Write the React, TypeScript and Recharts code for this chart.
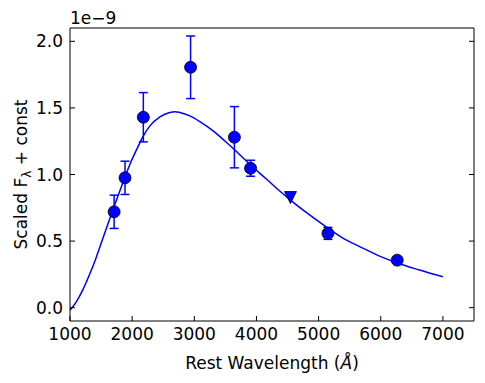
import React from 'react';
import {
  ComposedChart, Line, Scatter, ErrorBar, XAxis, YAxis,
} from 'recharts';

// model curve (flux in units of 1e-9)
const fitWave = [
  1000, 1096, 1204, 1311, 1418, 1514, 1610, 1706, 1804, 1884, 1980, 2077, 2178,
  2286, 2447, 2607, 2688, 2768, 2929, 3089, 3303, 3491, 3652, 3904, 4160, 4374,
  4547, 4860, 5150, 5418, 5659, 5981, 6265, 6624, 7000,
];
const fitFlux = [
  -0.019, 0.04, 0.132, 0.245, 0.372, 0.5, 0.628, 0.756, 0.88, 0.981, 1.094, 1.192, 1.289,
  1.365, 1.432, 1.466, 1.472, 1.466, 1.44, 1.397, 1.327, 1.252, 1.184, 1.071, 0.966, 0.876,
  0.808, 0.695, 0.598, 0.515, 0.459, 0.387, 0.336, 0.283, 0.232,
];

// photometry
const obsWave = [1710, 1885, 2180, 2940, 3645, 3905, 5150, 6265];
const obsFlux = [0.72, 0.975, 1.43, 1.805, 1.28, 1.047, 0.558, 0.357];
const obsErr = [0.125, 0.125, 0.185, 0.235, 0.23, 0.06, 0.045, 0.015];

// upper limit
const limWave = [4547];
const limFlux = [0.827];

const xTicks = [1000, 2000, 3000, 4000, 5000, 6000, 7000];
const yTicks = [0, 0.5, 1, 1.5, 2];

const BLUE = '#0000ff';
const FONT = 'DejaVu Sans';
const FS = 17;

const fitData = fitWave.map((x, i) => ({ x, y: fitFlux[i] }));
const obsData = obsWave.map((x, i) => ({ x, y: obsFlux[i], err: obsErr[i] }));
const limData = limWave.map((x, i) => ({ x, y: limFlux[i] }));

const BottomTick = ({ x, y, payload }: any) => (
  <g>
    <line x1={x} x2={x} y1={y} y2={y - 5} stroke="#000" />
    <text x={x} y={y + 19} textAnchor="middle" fontFamily={FONT} fontSize={FS} fill="#000">
      {payload.value}
    </text>
  </g>
);
const TopTick = ({ x, y }: any) => <line x1={x} x2={x} y1={y} y2={y + 5} stroke="#000" />;
const LeftTick = ({ x, y, payload }: any) => (
  <g>
    <line x1={x} x2={x + 5} y1={y} y2={y} stroke="#000" />
    <text x={x - 7} y={y + 6} textAnchor="end" fontFamily={FONT} fontSize={FS} fill="#000">
      {Number(payload.value).toFixed(1)}
    </text>
  </g>
);
const RightTick = ({ x, y }: any) => <line x1={x} x2={x - 5} y1={y} y2={y} stroke="#000" />;

const Dot = ({ cx, cy }: any) => (
  <circle cx={cx} cy={cy} r={6} fill={BLUE} stroke="#000" strokeWidth={0.8} />
);
const DownTri = ({ cx, cy }: any) => (
  <path
    d={`M${cx - 6},${cy - 6}L${cx + 6},${cy - 6}L${cx},${cy + 6}Z`}
    fill={BLUE}
    stroke="#000"
    strokeWidth={0.8}
  />
);

export default function App() {
  return (
    <div style={{ position: 'absolute', left: 0, top: 0, background: '#fff' }}>
      <ComposedChart
        width={485}
        height={383}
        margin={{ top: 27, right: 10, bottom: 32, left: 10 }}
      >
        <XAxis
          dataKey="x"
          type="number"
          domain={[1000, 7500]}
          ticks={xTicks}
          allowDataOverflow
          height={30}
          tickSize={0}
          tickMargin={0}
          tick={<BottomTick />}
          tickLine={false}
          axisLine={{ stroke: '#000' }}
          label={{
            content: ({ viewBox }: any) => (
              <text
                x={viewBox.x + viewBox.width / 2}
                y={viewBox.y + 48}
                textAnchor="middle"
                fontFamily={FONT}
                fontSize={FS}
                fill="#000"
              >
                Rest Wavelength (<tspan fontStyle="italic">Å</tspan>)
              </text>
            ),
          }}
        />
        <XAxis
          xAxisId="top"
          orientation="top"
          type="number"
          domain={[1000, 7500]}
          ticks={xTicks}
          allowDataOverflow
          height={1}
          tickSize={0}
          tickMargin={0}
          tick={<TopTick />}
          tickLine={false}
          axisLine={{ stroke: '#000' }}
          label={{
            content: ({ viewBox }: any) => (
              <text
                x={viewBox.x}
                y={viewBox.y + viewBox.height - 4}
                fontFamily={FONT}
                fontSize={FS}
                fill="#000"
              >
                1e−9
              </text>
            ),
          }}
        />
        <YAxis
          type="number"
          domain={[-0.1, 2.1]}
          ticks={yTicks}
          allowDataOverflow
          width={60}
          tickSize={0}
          tickMargin={0}
          tick={<LeftTick />}
          tickLine={false}
          axisLine={{ stroke: '#000' }}
          label={{
            content: ({ viewBox }: any) => {
              const cx = viewBox.x + viewBox.width - 43;
              const cy = viewBox.y + viewBox.height / 2;
              return (
                <text
                  x={cx}
                  y={cy}
                  transform={`rotate(-90 ${cx} ${cy})`}
                  textAnchor="middle"
                  fontFamily={FONT}
                  fontSize={FS}
                  fill="#000"
                >
                  Scaled F
                  <tspan fontSize={12} dy={4}>λ</tspan>
                  <tspan dy={-4}> + const</tspan>
                </text>
              );
            },
          }}
        />
        <YAxis
          yAxisId="right"
          orientation="right"
          type="number"
          domain={[-0.1, 2.1]}
          ticks={yTicks}
          allowDataOverflow
          width={1}
          tickSize={0}
          tickMargin={0}
          tick={<RightTick />}
          tickLine={false}
          axisLine={{ stroke: '#000' }}
        />
        <Line
          data={fitData}
          dataKey="y"
          type="monotone"
          stroke={BLUE}
          strokeWidth={1.5}
          dot={false}
          activeDot={false}
          isAnimationActive={false}
        />
        <Scatter data={obsData} dataKey="y" shape={<Dot />} isAnimationActive={false}>
          <ErrorBar dataKey="err" direction="y" width={4.5} stroke={BLUE} strokeWidth={1.5} />
        </Scatter>
        <Scatter data={limData} dataKey="y" shape={<DownTri />} isAnimationActive={false} />
      </ComposedChart>
    </div>
  );
}
